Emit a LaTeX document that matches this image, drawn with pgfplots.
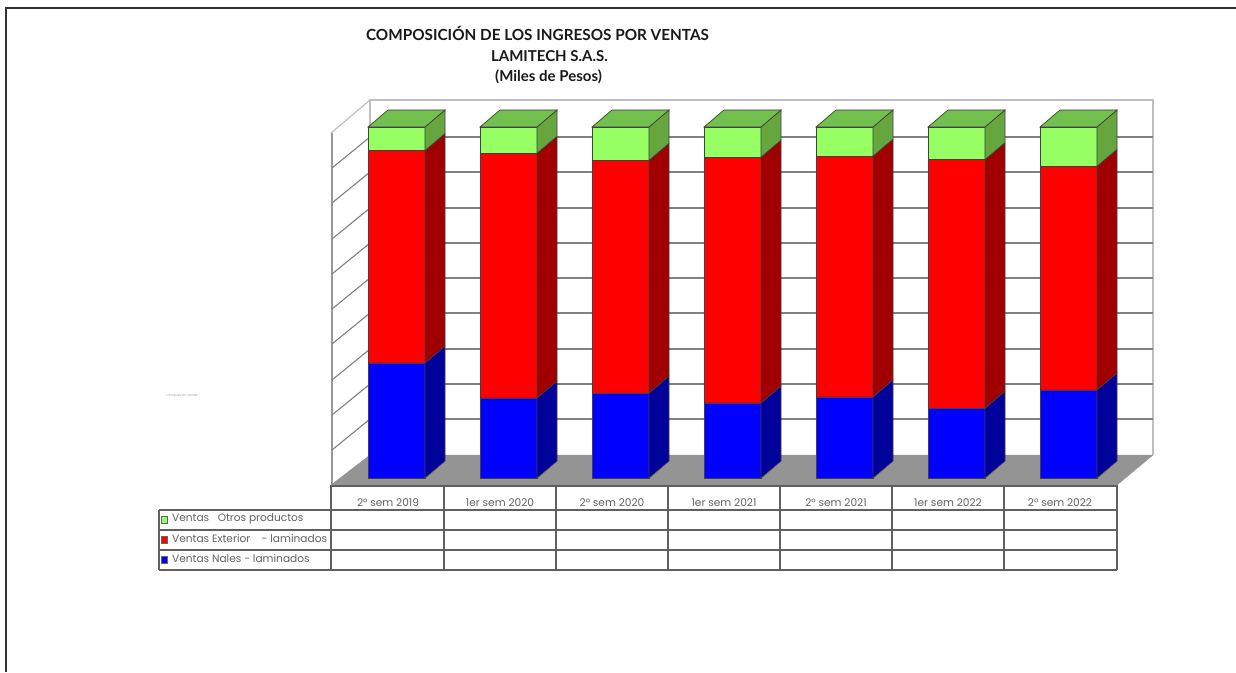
\documentclass[border=0pt]{standalone}
\usepackage{pgfplots}
\usepackage{pgfplotstable}
\usepackage{fontspec}
\pgfplotsset{compat=1.18}
\setmainfont{Poppins}
\newfontfamily\titlefont{Lato}

\definecolor{bluefront}{HTML}{0000FF}
\definecolor{blueside}{HTML}{00009A}
\definecolor{redfront}{HTML}{FF0000}
\definecolor{redside}{HTML}{A00000}
\definecolor{greenfront}{HTML}{96FF64}
\definecolor{greenside}{HTML}{66A63F}
\definecolor{greentop}{HTML}{72C04E}
\definecolor{tableline}{HTML}{606060}
\definecolor{gridline}{HTML}{808080}

% share of each series in the sales, percent
\pgfplotstableread{
x blue red green
0 32.8 60.5 6.7
1 22.8 69.7 7.5
2 24.2 66.3 9.5
3 21.4 70.0 8.6
4 23.1 68.6 8.3
5 19.9 70.8 9.3
6 25.1 63.7 11.2
}\shares

% bar axes: one category = 112 px, one percent = 3.51 px, zero at pixel row 478
\pgfplotsset{
  page/.style={
    at={(0,0)}, anchor=south west,
    width=1236pt, height=672pt, scale only axis, hide axis,
  },
  bars/.style={
    page,
    xmin=-3.5402, xmax=7.4955,
    ymin=-55.27, ymax=136.18,
  },
}

\newcommand\depthfaces[4]{%
  \pgfmathsetmacro\xl{#1-0.2545}%
  \pgfmathsetmacro\xa{#1+0.2545}%
  \pgfmathsetmacro\xb{\xa+0.1786}%
  \pgfmathsetmacro\xc{\xl+0.1786}%
  \pgfmathsetmacro\ya{#2}%
  \pgfmathsetmacro\yb{#2+#3}%
  \pgfmathsetmacro\yc{#2+#3+#4}%
  \pgfmathsetmacro\za{\ya+4.84}%
  \pgfmathsetmacro\zb{\yb+4.84}%
  \pgfmathsetmacro\zc{\yc+4.84}%
  \addplot[fill=blueside,draw=black!75,line width=.7pt] coordinates {(\xa,0) (\xb,4.84) (\xb,\za) (\xa,\ya)} -- cycle;
  \addplot[fill=redside,draw=black!75,line width=.7pt] coordinates {(\xa,\ya) (\xb,\za) (\xb,\zb) (\xa,\yb)} -- cycle;
  \addplot[fill=greenside,draw=black!75,line width=.7pt] coordinates {(\xa,\yb) (\xb,\zb) (\xb,\zc) (\xa,\yc)} -- cycle;
  \addplot[fill=greentop,draw=black!75,line width=.7pt] coordinates {(\xl,\yc) (\xa,\yc) (\xb,\zc) (\xc,\zc)} -- cycle;
}

\begin{document}
\begin{tikzpicture}
% frame, walls, floor, data table and all text, in pixel rows and columns
\begin{axis}[page, xmin=0, xmax=1236, ymin=0, ymax=672, y dir=reverse]
  \path (axis cs:0,0) rectangle (axis cs:1236,672);
  \draw[black!80,line width=2pt] (axis cs:5.5,672) -- (axis cs:5.5,8) -- (axis cs:1236,8);

  % back and side walls
  \draw[black!25,line width=1.5pt] (axis cs:370,455) -- (axis cs:370,100) -- (axis cs:1153,100) -- (axis cs:1153,455);
  \draw[black!25,line width=1.2pt] (axis cs:331,133) -- (axis cs:370,100);
  \draw[black!40,line width=2.2pt] (axis cs:332,485) -- (axis cs:332,133);
  \pgfplotsinvokeforeach{137,172,208,243,278,313,349,384,419}{
    \draw[gridline,line width=1.3pt] (axis cs:370,#1) -- (axis cs:1153,#1);
    \draw[gridline,line width=1.1pt] (axis cs:332,#1+31) -- (axis cs:370,#1);
  }
  % floor
  \draw[fill=black!42,draw=black!42] (axis cs:370,455) -- (axis cs:1153,455) -- (axis cs:1117,485) -- (axis cs:331,485) -- cycle;

  % table under the chart
  \draw[tableline,line width=2pt] (axis cs:331,485.5) -- (axis cs:1117,485.5);
  \pgfplotsinvokeforeach{510,530,550,570}{
    \draw[tableline,line width=1.5pt] (axis cs:159,#1) -- (axis cs:1117,#1);
  }
  \draw[tableline,line width=1.5pt] (axis cs:159,510) -- (axis cs:159,570);
  \pgfplotsinvokeforeach{331,444,556,668,780,892,1004,1117}{
    \draw[tableline,line width=1.5pt] (axis cs:#1,485) -- (axis cs:#1,570);
  }
  \draw[black!60,fill=greenfront] (axis cs:161.5,516) rectangle (axis cs:167.5,523);
  \draw[black!60,fill=redfront] (axis cs:161.5,536) rectangle (axis cs:167.5,543);
  \draw[black!60,fill=bluefront] (axis cs:161.5,556) rectangle (axis cs:167.5,563);

  \begin{scope}[every node/.style={text=black!62,font=\fontsize{10.6}{12}\selectfont,inner sep=0pt}]
    \node at (axis cs:388,503) {2° sem 2019};
    \node at (axis cs:500,503) {1er sem 2020};
    \node at (axis cs:612,503) {2° sem 2020};
    \node at (axis cs:724,503) {1er sem 2021};
    \node at (axis cs:836,503) {2° sem 2021};
    \node at (axis cs:948,503) {1er sem 2022};
    \node at (axis cs:1060,503) {2° sem 2022};
    \node[anchor=west] at (axis cs:172,519) {Ventas\ \ \ Otros productos};
    \node[anchor=west] at (axis cs:172,539) {Ventas Exterior\ \ \ \ - laminados};
    \node[anchor=west] at (axis cs:172,559) {Ventas Nales - laminados};
  \end{scope}
  \node[text=black!40,font=\fontsize{3}{3}\selectfont,inner sep=0pt] at (axis cs:182,396) {Composición ventas};

  \node[font=\titlefont\bfseries\fontsize{15.3}{16}\selectfont,inner sep=0pt,text=black!90] at (axis cs:537.5,33) {COMPOSICIÓN DE LOS INGRESOS POR VENTAS};
  \node[font=\titlefont\bfseries\fontsize{15}{16}\selectfont,inner sep=0pt,text=black!90] at (axis cs:549.5,56) {LAMITECH S.A.S.};
  \node[font=\titlefont\bfseries\fontsize{15}{16}\selectfont,inner sep=0pt,text=black!90] at (axis cs:548.5,77) {(Miles de Pesos)};
\end{axis}

% front faces of the stacked bars
\begin{axis}[bars, ybar stacked, bar width=0.509, clip=false]
  \addplot[fill=bluefront,draw=black!75,line width=.7pt] table[x=x,y=blue] {\shares};
  \addplot[fill=redfront,draw=black!75,line width=.7pt] table[x=x,y=red] {\shares};
  \addplot[fill=greenfront,draw=black!75,line width=.7pt] table[x=x,y=green] {\shares};
\end{axis}

% side and top faces, from the same table
\begin{axis}[bars, clip=false]
  \pgfplotsforeachungrouped \i in {0,...,6}{
    \pgfplotstablegetelem{\i}{blue}\of\shares \let\va\pgfplotsretval
    \pgfplotstablegetelem{\i}{red}\of\shares \let\vb\pgfplotsretval
    \pgfplotstablegetelem{\i}{green}\of\shares \let\vc\pgfplotsretval
    \depthfaces{\i}{\va}{\vb}{\vc}
  }
\end{axis}
\end{tikzpicture}
\end{document}
